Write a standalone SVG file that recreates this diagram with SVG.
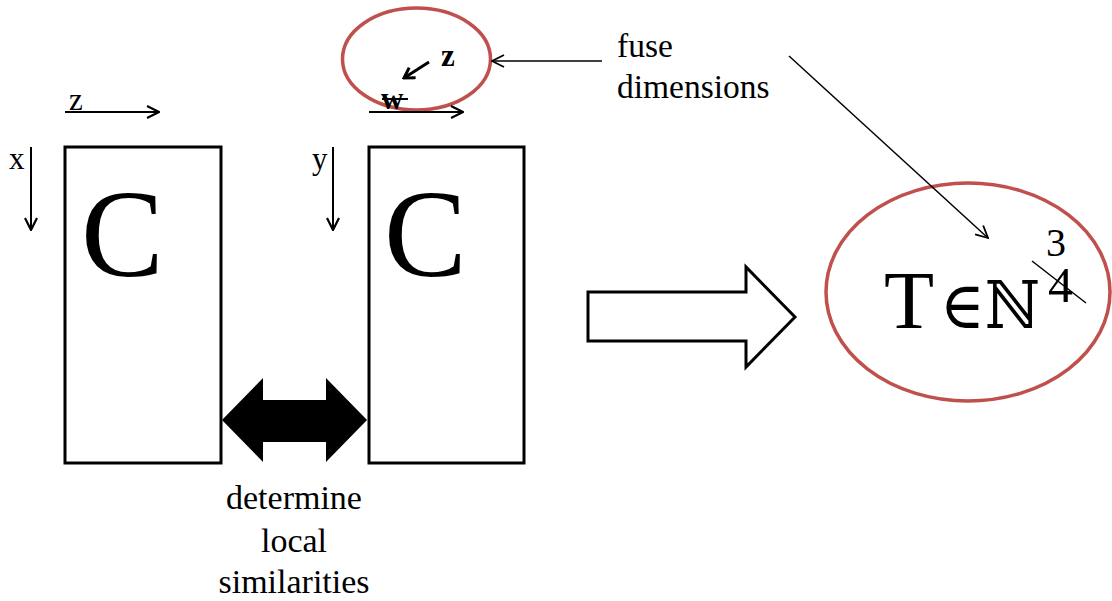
<svg xmlns="http://www.w3.org/2000/svg" width="1112" height="601" viewBox="0 0 1112 601">
<style>
.t{font-family:"Liberation Serif","Times New Roman",serif;fill:#000}
.m{font-family:"DejaVu Serif",serif;fill:#000}
.box{fill:#fff;stroke:#000;stroke-width:3}
.ell{fill:none;stroke:#c0504d;stroke-width:3.5}
.ln{stroke:#000;fill:none}
</style>
<defs>
<marker id="v" markerUnits="userSpaceOnUse" viewBox="0 0 14 14" refX="13" refY="7" markerWidth="14" markerHeight="14" orient="auto">
<path d="M1,1 L13,7 L1,13" fill="none" stroke="#000" stroke-width="1.8"/>
</marker>
<marker id="v2" markerUnits="userSpaceOnUse" viewBox="0 0 14 14" refX="13" refY="7" markerWidth="14" markerHeight="14" orient="auto">
<path d="M1,1 L13,7 L1,13" fill="none" stroke="#000" stroke-width="2.2"/>
</marker>
<marker id="vb" markerUnits="userSpaceOnUse" viewBox="0 0 14 14" refX="12" refY="7" markerWidth="14" markerHeight="14" orient="auto">
<path d="M2,1 L12,7 L2,13" fill="none" stroke="#000" stroke-width="3"/>
</marker>
</defs>

<g id="left-block">
<rect class="box" x="65" y="147" width="156" height="316"/>
<text class="t" x="81" y="276" font-size="124">C</text>
</g>

<g id="right-block">
<rect class="box" x="369" y="147" width="155" height="316"/>
<text class="t" x="384" y="276" font-size="124">C</text>
</g>

<g id="small-ellipse">
<ellipse class="ell" cx="416.5" cy="59" rx="74" ry="51"/>
<text class="t" x="441" y="66" font-size="31" font-weight="bold">z</text>
<text class="t" x="381" y="109" font-size="31" font-weight="bold">w</text>
<line class="ln" x1="382" y1="99" x2="408" y2="99" stroke-width="2"/>
</g>

<g id="big-ellipse">
<ellipse class="ell" cx="968" cy="292" rx="142" ry="109"/>
<text class="t" x="884" y="328" font-size="82">T</text>
<text class="m" x="940" y="328" font-size="66" textLength="100" lengthAdjust="spacingAndGlyphs">∈ℕ</text>
<text class="t" x="1046" y="256" font-size="40">3</text>
<text class="t" x="1048" y="302" font-size="50">4</text>
<line class="ln" x1="1032" y1="261" x2="1086" y2="303" stroke-width="1.5"/>
</g>

<g id="labels">
<text class="t" x="69" y="110" font-size="31">z</text>
<text class="t" x="9" y="169" font-size="31">x</text>
<text class="t" x="312" y="169" font-size="31">y</text>
<text class="t" x="617" y="57" font-size="33.5">fuse</text>
<text class="t" x="617" y="98" font-size="33.5">dimensions</text>
<text class="t" x="294" y="509" font-size="34" text-anchor="middle">determine</text>
<text class="t" x="294" y="552" font-size="34" text-anchor="middle">local</text>
<text class="t" x="294" y="593" font-size="34" text-anchor="middle">similarities</text>
</g>

<g id="connectors">
<line class="ln" x1="65" y1="112" x2="159" y2="112" stroke-width="2" marker-end="url(#v2)"/>
<line class="ln" x1="31" y1="147" x2="31" y2="230" stroke-width="2" marker-end="url(#v2)"/>
<line class="ln" x1="333" y1="147" x2="333" y2="230" stroke-width="2" marker-end="url(#v2)"/>
<line class="ln" x1="369" y1="112" x2="463" y2="112" stroke-width="2" marker-end="url(#v2)"/>
<line class="ln" x1="429" y1="62" x2="404" y2="78" stroke-width="3" marker-end="url(#vb)"/>
<line class="ln" x1="602" y1="61" x2="492" y2="61" stroke-width="1.5" marker-end="url(#v)"/>
<line class="ln" x1="789" y1="56" x2="988" y2="238" stroke-width="1.5" marker-end="url(#v)"/>
<path d="M222,420 L263,378 L263,400 L326,400 L326,378 L367,420 L326,462 L326,442 L263,442 L263,462 Z" fill="#000"/>
<path d="M588,292 L746,292 L746,267 L795,317 L746,367 L746,341 L588,341 Z" fill="#fff" stroke="#000" stroke-width="3"/>
</g>
</svg>
